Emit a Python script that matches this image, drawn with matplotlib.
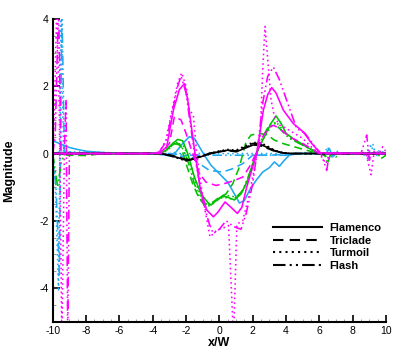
import matplotlib
matplotlib.use("Agg")
import matplotlib.pyplot as plt
from matplotlib.ticker import MultipleLocator

plt.rcParams['font.family'] = ['Liberation Sans', 'DejaVu Sans']
plt.rcParams['axes.unicode_minus'] = False

# ---------------- data ----------------
# Black
blk_sol_x = [-10, -3.5, -3.0, -2.5, -2.0, -1.5, -1.0, -0.5, 0.0, 0.5, 1.0, 1.5, 2.0, 2.4, 2.8, 3.3, 3.8, 4.3, 10]
blk_sol_y = [0, 0, -0.05, -0.12, -0.2, -0.15, -0.08, 0.0, 0.05, 0.1, 0.05, 0.15, 0.25, 0.28, 0.2, 0.08, 0.02, 0, 0]
blk_dsh_x = [-10, -3.5, -3.0, -2.5, -2.0, -1.5, -1.0, -0.5, 0.0, 0.5, 1.0, 1.5, 2.0, 2.4, 2.8, 3.3, 3.8, 4.3, 10]
blk_dsh_y = [0, 0, -0.04, -0.1, -0.17, -0.14, -0.06, 0.02, 0.06, 0.08, 0.07, 0.18, 0.26, 0.24, 0.17, 0.07, 0.02, 0, 0]
blk_dot_x = [-10, -3.5, -3.0, -2.5, -2.0, -1.5, -1.0, -0.5, 0.0, 0.5, 1.0, 1.5, 2.0, 2.4, 2.8, 3.3, 3.8, 4.3, 10]
blk_dot_y = [0, 0, -0.05, -0.13, -0.22, -0.16, -0.06, 0.02, 0.08, 0.12, 0.1, 0.22, 0.33, 0.32, 0.25, 0.1, 0.03, 0, 0]
blk_dd_x = [-10, -3.5, -3.0, -2.5, -2.0, -1.5, -1.0, -0.5, 0.0, 0.5, 1.0, 1.5, 2.0, 2.4, 2.8, 3.3, 3.8, 4.3, 10]
blk_dd_y = [0, 0, -0.06, -0.14, -0.21, -0.16, -0.07, 0.01, 0.06, 0.1, 0.08, 0.2, 0.3, 0.3, 0.22, 0.09, 0.02, 0, 0]

# Green
grn_sol_x = [-10, -3.6, -3.2, -2.8, -2.5, -2.2, -1.9, -1.5, -1.1, -0.7, -0.5, -0.2, 0.2, 0.5, 0.9, 1.3, 1.7, 2.1, 2.4, 2.8, 3.1, 3.4, 3.7, 4.0, 4.4, 4.9, 5.4, 6.0, 10]
grn_sol_y = [0, 0, 0.1, 0.3, 0.42, 0.38, 0.0, -0.7, -1.2, -1.45, -1.53, -1.4, -1.25, -1.3, -1.38, -1.2, -0.8, -0.15, 0.2, 0.6, 0.9, 1.12, 0.9, 0.6, 0.45, 0.3, 0.15, 0, 0]
grn_dsh_x = [-10, -9.0, -8.0, -7.0, -3.5, -3.0, -2.6, -2.3, -2.0, -1.6, -1.2, -0.8, -0.4, 0.0, 0.4, 0.8, 1.2, 1.6, 1.9, 2.4, 2.9, 3.3, 3.8, 4.5, 5.2, 6.0, 6.5, 6.8, 10]
grn_dsh_y = [0, -0.05, -0.06, 0, 0, 0.2, 0.35, 0.2, -0.3, -0.9, -1.35, -1.5, -1.45, -1.3, -1.2, -0.9, -0.4, 0.35, 0.55, 0.6, 0.55, 0.4, 0.3, 0.2, 0.1, 0, -0.1, 0, 0]
grn_dot_x = [-10, -3.6, -3.2, -2.8, -2.5, -2.1, -1.8, -1.4, -1.0, -0.8, -0.5, -0.1, 0.3, 0.7, 1.1, 1.5, 1.9, 2.3, 2.7, 3.1, 3.4, 3.8, 4.3, 5.0, 6.0, 10]
grn_dot_y = [0, 0, 0.08, 0.25, 0.32, 0.2, -0.2, -0.9, -1.4, -1.55, -1.5, -1.35, -1.3, -1.35, -1.3, -1.0, -0.5, 0.1, 0.5, 0.8, 0.95, 0.7, 0.45, 0.25, 0, 0]
grn_dd_x = [-10, -9.85, -9.7, -9.5, -9.3, -3.6, -3.1, -2.7, -2.3, -1.9, -1.5, -1.1, -0.8, -0.4, 0.1, 0.6, 1.0, 1.4, 1.8, 2.2, 2.6, 3.0, 3.3, 3.7, 4.2, 5.0, 6.0, 6.3, 6.5, 6.7, 7.0, 7.3, 9.5, 9.7, 10]
grn_dd_y = [0, -0.5, -1.0, -0.3, 0, 0, 0.1, 0.3, 0.25, -0.2, -0.9, -1.4, -1.6, -1.5, -1.3, -1.25, -1.3, -1.1, -0.6, 0.0, 0.5, 0.85, 0.9, 0.7, 0.45, 0.25, 0, 0, -0.3, 0.05, -0.1, 0, 0, -0.15, -0.05]

# Cyan
cyn_sol_x = [-10, -9.5, -9.0, -8.5, -8.0, -7.0, -6.0, -4.0, -3.5, -3.0, -2.6, -2.2, -1.8, -1.5, -1.2, -0.9, -0.5, 0.0, 0.5, 0.9, 1.2, 1.5, 1.8, 2.2, 2.6, 3.0, 3.3, 3.6, 3.9, 4.2, 4.6, 6.4, 6.6, 6.8, 7.0, 10]
cyn_sol_y = [0.38, 0.28, 0.18, 0.12, 0.07, 0.03, 0, 0, -0.02, -0.07, 0.05, 0.3, 0.5, 0.45, 0.2, -0.05, -0.35, -0.6, -0.85, -1.2, -1.47, -1.4, -1.1, -0.8, -0.55, -0.42, -0.25, -0.38, -0.2, -0.05, 0, 0, 0.15, -0.1, 0, 0]
cyn_dsh_x = [-10, -9.5, -8.0, -4.0, -3.2, -2.5, -1.8, -1.2, -0.6, 0.2, 0.8, 1.4, 2.0, 3.0, 4.0, 5.0, 10]
cyn_dsh_y = [0, 0.05, 0.0, 0, -0.05, -0.1, -0.05, -0.3, -0.5, -0.55, -0.45, -0.3, -0.05, -0.05, -0.02, 0, 0]
cyn_dot_x = [-10, -9.85, -9.65, -9.5, -9.35, -9.0, -4.0, 6.3, 6.5, 6.7, 7.0, 7.2, 8.8, 9.0, 9.2, 9.4, 9.6, 10]
cyn_dot_y = [0, -0.8, -4.1, 4.5, 0, 0.05, 0, 0, 0.2, -0.1, 0.1, 0, 0, 0.2, 0.3, -0.1, 0.1, 0]
cyn_dd_x = [-10, -9.8, -9.6, -9.45, -9.3, -9.0, -3.0, -2.0, 0.0, 2.0, 4.0, 5.0, 8.6, 8.9, 9.1, 9.3, 10]
cyn_dd_y = [0, -1.0, -3.6, 4.5, 0, 0.02, 0, -0.05, -0.05, -0.05, -0.05, 0, 0, -0.15, 0.25, 0, 0]

# Magenta
mag_sol_x = [-10, -4, -3.5, -3.16, -2.76, -2.4, -2.1, -1.9, -1.76, -1.46, -1.16, -0.76, -0.36, -0.1, 0.34, 0.7, 1.08, 1.35, 1.64, 2.24, 2.64, 2.9, 3.14, 3.4, 3.84, 4.44, 5.04, 5.54, 6.04, 10]
mag_sol_y = [0, 0, 0.05, 0.2, 1.29, 1.9, 2.08, 1.6, 1.09, 0.0, -1.0, -1.68, -1.88, -1.75, -1.44, -1.6, -1.78, -1.6, -1.0, 0.0, 1.29, 1.75, 1.96, 1.8, 1.29, 0.89, 0.64, 0.3, 0.02, 0]
mag_dsh_x = [-10, -4, -3.5, -3.0, -2.7, -2.3, -2.0, -1.6, -1.2, -0.8, -0.2, 0.4, 0.9, 1.4, 1.8, 2.2, 2.6, 3.0, 3.24, 3.6, 4.2, 5.0, 6.0, 10]
mag_dsh_y = [0, 0, 0, 0.3, 1.1, 1.0, 0.6, 0.0, -0.6, -0.85, -0.95, -0.88, -0.8, -0.7, -0.4, 0.0, 0.5, 0.78, 0.84, 0.75, 0.5, 0.3, 0, 0]
mag_dot_x = [-10, -9.9, -9.75, -9.6, -9.45, -9.3, -4, -3.6, -3.2, -2.8, -2.5, -2.26, -2.0, -1.8, -1.56, -1.36, -1.0, -0.56, -0.16, 0.3, 0.55, 0.85, 1.05, 1.4, 1.8, 2.2, 2.45, 2.6, 2.74, 2.95, 3.1, 3.3, 3.6, 4.0, 4.5, 5.0, 5.5, 6.0, 6.4, 6.6, 8.8, 9.1, 9.3, 9.6, 9.8, 10]
mag_dot_y = [0, 1.2, 4.5, 1.0, -5.5, 0, 0, 0.05, 0.4, 1.4, 2.1, 2.4, 2.0, 1.3, 1.14, 0.0, -1.3, -2.48, -2.28, -2.2, -2.14, -5.5, -2.1, -2.0, -1.2, -0.2, 0.5, 2.5, 3.78, 2.5, 1.6, 1.1, 0.85, 0.75, 0.6, 0.45, 0.2, 0, -0.3, 0, 0, -0.63, 0.1, 0, 0.2, 0.05]
mag_dd_x = [-10, -9.85, -9.65, -9.5, -9.3, -9.2, -9.1, -9.0, -4, -3.6, -3.2, -2.8, -2.5, -2.3, -2.0, -1.75, -1.4, -1.0, -0.6, -0.36, 0.0, 0.4, 0.8, 1.0, 1.3, 1.6, 2.0, 2.3, 2.6, 2.9, 3.24, 3.6, 4.04, 4.64, 5.14, 5.74, 6.1, 6.44, 6.6, 8.5, 8.84, 9.0, 9.1, 10]
mag_dd_y = [0, 0.5, 4.5, 0, 0.2, 1.6, -5.5, 0, 0, 0.05, 0.35, 1.3, 2.0, 2.3, 1.8, 0.9, -0.3, -1.4, -2.1, -2.38, -2.25, -2.0, -2.15, -2.2, -2.25, -1.8, -0.9, 0.2, 1.5, 2.3, 2.57, 2.2, 1.58, 0.74, 0.6, 0.2, 0, -0.5, 0, 0, 0.55, -0.2, 0, 0]

labels = ["Flamenco", "Triclade", "Turmoil", "Flash"]

# ---------------- styles ----------------
C_BLK = "black"
C_GRN = "#00c000"
C_CYN = "#20a8f0"
C_MAG = "#ff00ff"
LS = {
    "sol": "-",
    "dsh": (0, (5, 3)),
    "dot": (0, (1, 2)),
    "dd": (0, (6, 2, 1, 2, 1, 2)),
}
LW = 1.15

fig = plt.figure(figsize=(4.07, 3.62), dpi=100)
ax = fig.add_axes([0.1295, 0.1113, 0.8190, 0.8362])

series = [
    (C_CYN, cyn_sol_x, cyn_sol_y, "sol"), (C_CYN, cyn_dsh_x, cyn_dsh_y, "dsh"),
    (C_CYN, cyn_dot_x, cyn_dot_y, "dot"), (C_CYN, cyn_dd_x, cyn_dd_y, "dd"),
    (C_GRN, grn_sol_x, grn_sol_y, "sol"), (C_GRN, grn_dsh_x, grn_dsh_y, "dsh"),
    (C_GRN, grn_dot_x, grn_dot_y, "dot"), (C_GRN, grn_dd_x, grn_dd_y, "dd"),
    (C_BLK, blk_sol_x, blk_sol_y, "sol"), (C_BLK, blk_dsh_x, blk_dsh_y, "dsh"),
    (C_BLK, blk_dot_x, blk_dot_y, "dot"), (C_BLK, blk_dd_x, blk_dd_y, "dd"),
    (C_MAG, mag_sol_x, mag_sol_y, "sol"), (C_MAG, mag_dsh_x, mag_dsh_y, "dsh"),
    (C_MAG, mag_dot_x, mag_dot_y, "dot"), (C_MAG, mag_dd_x, mag_dd_y, "dd"),
]
for col, xs, ys, st in series:
    ax.plot(xs, ys, color=col, linestyle=LS[st], lw=LW)

# legend proxies (black)
handles = []
for st, lab in zip(["sol", "dsh", "dot", "dd"], labels):
    h, = ax.plot([], [], color="black", linestyle=LS[st], lw=1.5, label=lab)
    handles.append(h)
leg = ax.legend(handles=handles, loc="upper left", bbox_to_anchor=(0.661, 0.325),
                frameon=False, borderpad=0, borderaxespad=0, handlelength=4.4,
                handletextpad=0.7, labelspacing=0.22,
                prop={"size": 8, "weight": "bold"})

ax.set_xlim(-10, 10)
ax.set_ylim(-5, 4)
ax.set_xticks([-10, -8, -6, -4, -2, 0, 2, 4, 6, 8, 10])
ax.set_yticks([-4, -2, 0, 2, 4])
ax.xaxis.set_minor_locator(MultipleLocator(0.5))
ax.yaxis.set_minor_locator(MultipleLocator(0.5))
ax.tick_params(which="major", direction="in", length=5, width=1.2, labelsize=7.5,
               top=False, right=False, pad=3)
ax.tick_params(which="minor", direction="in", length=2.5, width=0.6, color="#888888",
               top=False, right=False)
for s in ["top", "right"]:
    ax.spines[s].set_visible(False)
for s in ["left", "bottom"]:
    ax.spines[s].set_linewidth(1.5)

ax.set_xlabel("x/W", fontsize=9, fontweight="bold", labelpad=1)
ax.set_ylabel("Magnitude", fontsize=9, fontweight="bold", labelpad=17)

fig.savefig("out.png", dpi=100)
